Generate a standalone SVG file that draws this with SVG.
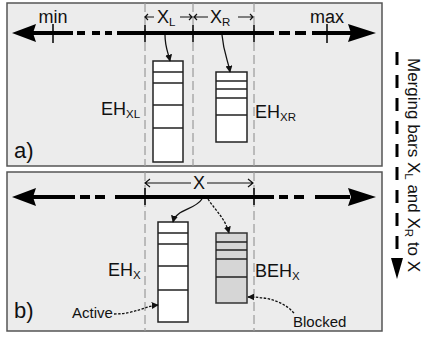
<svg xmlns="http://www.w3.org/2000/svg" width="425" height="339" viewBox="0 0 425 339">
  <style>
    text { font-family: "Liberation Sans", Arial, sans-serif; fill: #111; }
    .panel { fill: #ececec; stroke: #555; stroke-width: 1.5; }
    .guide { stroke: #9a9a9a; stroke-width: 1.2; stroke-dasharray: 9 4; fill: none; }
    .axis { stroke: #000; stroke-width: 4; fill: none; }
    .tick { stroke: #000; stroke-width: 1.5; }
    .box { fill: #fff; stroke: #222; stroke-width: 1.5; }
    .bbox { fill: #d6d6d6; stroke: #333; stroke-width: 1.5; }
    .row { stroke: #222; stroke-width: 1.5; }
    .link { stroke: #111; stroke-width: 1.3; fill: none; marker-end: url(#head); }
    .dotted { stroke: #111; stroke-width: 1.3; fill: none; stroke-dasharray: 2.5 1.5; marker-end: url(#head); }
    .span { stroke: #111; stroke-width: 1.2; fill: none; }
    .lbl { font-size: 18px; }
    .side { font-size: 17px; }
    .sub { font-size: 11.5px; }
    .tag { font-size: 22px; }
    .small { font-size: 15px; }
  </style>
  <defs>
    <marker id="head" viewBox="0 0 10 10" refX="9" refY="5" markerWidth="7" markerHeight="7" markerUnits="userSpaceOnUse" orient="auto">
      <path d="M0,0 L10,5 L0,10 Z" fill="#111"/>
    </marker>
  </defs>

  <!-- panel a -->
  <g id="panel-a">
    <rect class="panel" x="7" y="3" width="375" height="163"/>
    <line class="guide" x1="145" y1="3" x2="145" y2="166"/>
    <line class="guide" x1="193" y1="3" x2="193" y2="166"/>
    <line class="guide" x1="254" y1="3" x2="254" y2="166"/>
    <text class="tag" x="14" y="158">a)</text>
  </g>

  <!-- panel b -->
  <g id="panel-b">
    <rect class="panel" x="7" y="172" width="375" height="159"/>
    <line class="guide" x1="145" y1="172" x2="145" y2="331"/>
    <line class="guide" x1="254" y1="172" x2="254" y2="331"/>
    <text class="tag" x="14" y="318">b)</text>
  </g>

  <!-- axis a -->
  <g id="axis-a">
    <path d="M12,33 L36,24 L33,33 L36,42 Z" fill="#000"/>
    <path class="axis" d="M33,33 H73 M77,33 H85 M92,33 H100 M105,33 H112 M117,33 H274 M279,33 H290 M295,33 H306 M312,33 H352"/>
    <path d="M376,33 L348,24 L351,33 L348,42 Z" fill="#000"/>
    <line class="tick" x1="53" y1="24" x2="53" y2="43"/>
    <line class="tick" x1="145" y1="25" x2="145" y2="42"/>
    <line class="tick" x1="193" y1="25" x2="193" y2="42"/>
    <line class="tick" x1="254" y1="25" x2="254" y2="42"/>
    <line class="tick" x1="327" y1="24" x2="327" y2="43"/>
    <text class="lbl" x="53" y="23" text-anchor="middle">min</text>
    <text class="lbl" x="327" y="23" text-anchor="middle">max</text>
  </g>

  <!-- range labels a -->
  <g id="range-xl">
    <path class="span" d="M145,17 H154 M148,14 L145,17 L148,20"/>
    <text class="lbl" x="157" y="23">X<tspan class="sub" dy="3">L</tspan></text>
    <path class="span" d="M180,17 H192 M189,14 L192,17 L189,20"/>
  </g>
  <g id="range-xr">
    <path class="span" d="M194,17 H208 M197,14 L194,17 L197,20"/>
    <text class="lbl" x="210" y="23">X<tspan class="sub" dy="3">R</tspan></text>
    <path class="span" d="M238,17 H253 M250,14 L253,17 L250,20"/>
  </g>

  <!-- EH_XL -->
  <g id="eh-xl">
    <rect class="box" x="153" y="61" width="30" height="101"/>
    <path class="row" d="M153,72 H183 M153,83 H183 M153,105 H183 M153,128 H183"/>
    <text class="lbl" x="101" y="115">EH<tspan class="sub" dy="3">XL</tspan></text>
  </g>

  <!-- EH_XR -->
  <g id="eh-xr">
    <rect class="box" x="216" y="72" width="31" height="70"/>
    <path class="row" d="M216,81 H247 M216,89 H247 M216,98 H247 M216,115 H247"/>
    <text class="lbl" x="255" y="118">EH<tspan class="sub" dy="3">XR</tspan></text>
  </g>

  <!-- axis b -->
  <g id="axis-b">
    <path d="M12,197 L36,188 L33,197 L36,206 Z" fill="#000"/>
    <path class="axis" d="M33,197 H75 M80,197 H90 M95,197 H105 M115,197 H274 M279,197 H288 M294,197 H304 M315,197 H350"/>
    <path d="M376,197 L348,188 L351,197 L348,206 Z" fill="#000"/>
    <line class="tick" x1="145" y1="188" x2="145" y2="205"/>
    <line class="tick" x1="254" y1="188" x2="254" y2="205"/>
  </g>

  <!-- range label b -->
  <g id="range-x">
    <path class="span" d="M145,183 H191 M150,179 L145,183 L150,187"/>
    <text class="lbl" x="199" y="189" text-anchor="middle">X</text>
    <path class="span" d="M207,183 H253 M248,179 L253,183 L248,187"/>
  </g>

  <!-- EH_X -->
  <g id="eh-x">
    <rect class="box" x="158" y="222" width="30" height="100"/>
    <path class="row" d="M158,233 H188 M158,244 H188 M158,266 H188 M158,290 H188"/>
    <text class="lbl" x="108" y="276">EH<tspan class="sub" dy="3">X</tspan></text>
  </g>

  <!-- BEH_X -->
  <g id="beh-x">
    <rect class="bbox" x="216" y="233" width="31" height="70"/>
    <path class="row" d="M216,242 H247 M216,250 H247 M216,259 H247 M216,277 H247"/>
    <text class="lbl" x="255" y="277">BEH<tspan class="sub" dy="3">X</tspan></text>
  </g>

  <!-- state labels -->
  <g id="label-active">
    <text class="small" x="72" y="318">Active</text>
  </g>
  <g id="label-blocked">
    <text class="small" x="293" y="327">Blocked</text>
  </g>

  <!-- merge direction -->
  <g id="merge-direction">
    <line x1="397" y1="52" x2="397" y2="262" stroke="#000" stroke-width="3" stroke-dasharray="13 10"/>
    <path d="M397,279 L391,258 L403,258 Z" fill="#000"/>
    <text class="side" transform="translate(408,58) rotate(90)">Merging bars X<tspan class="sub" dy="3">L</tspan><tspan dy="-3"> and X</tspan><tspan class="sub" dy="3">R</tspan><tspan dy="-3"> to X</tspan></text>
  </g>

  <!-- connectors -->
  <g id="connectors">
    <path class="link" d="M165,35 C165,47 168,52 170,61"/>
    <path class="link" d="M222,35 C224,55 228,60 230,72"/>
    <path class="link" d="M202,199 C195,210 176,209 173,222"/>
    <path class="dotted" d="M208,199 C215,210 225,218 229,233"/>
    <path class="dotted" d="M114,314 C135,314 145,306 158,305"/>
    <path class="dotted" d="M294,313 C282,300 266,297 248,297"/>
  </g>
</svg>
